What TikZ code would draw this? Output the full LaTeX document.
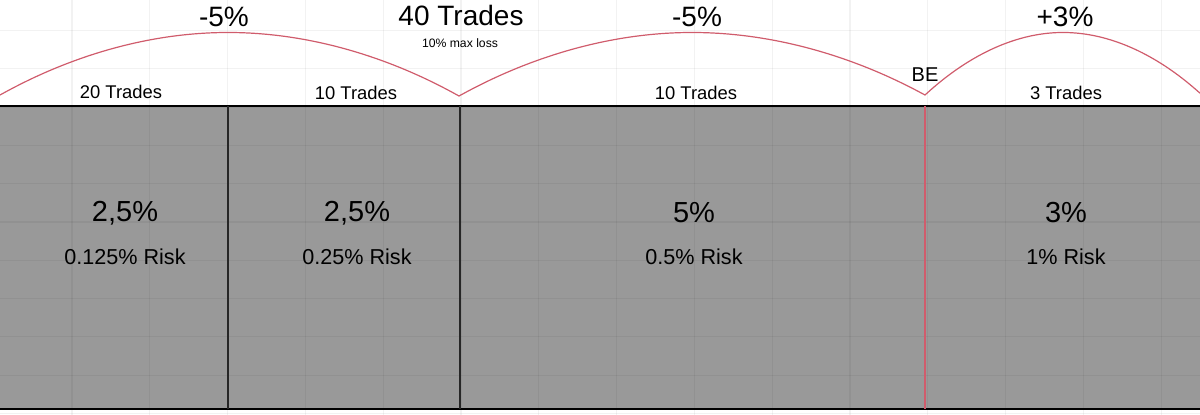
\documentclass[tikz,border=0pt]{standalone}
\usepackage{fontspec}
\setmainfont{Liberation Sans}
\definecolor{arcred}{RGB}{208,92,108}
\definecolor{panelgray}{RGB}{153,153,153}
\tikzset{
  pctlabel/.style={font=\fontsize{14}{16}\selectfont},
  notelabel/.style={font=\fontsize{6.1}{7}\selectfont},
  tradelabel/.style={font=\fontsize{9.2}{11}\selectfont},
  ratelabel/.style={font=\fontsize{14.5}{17}\selectfont},
  risklabel/.style={font=\fontsize{10.8}{13}\selectfont},
  gridline/.style={draw=black,opacity=0.05,line width=0.6pt},
  divider/.style={draw=black!85,line width=1pt},
  curve/.style={draw=arcred,line width=0.6pt},
}

\begin{document}
\begin{tikzpicture}[x=0.5pt,y=-0.5pt]
  \useasboundingbox (0,0) rectangle (1200,415);

  % panel
  \fill[panelgray] (0,106) rectangle (1200,409);
  \foreach \x in {0,...,14} {
    \draw[gridline] ({72+77.8*\x},0) -- ({72+77.8*\x},415);
  }
  \foreach \y in {0,...,10} {
    \draw[gridline] (0,{30.5+38.3*\y}) -- (1200,{30.5+38.3*\y});
  }
  \draw[line width=0.8pt] (0,106) -- (1200,106);
  \draw[line width=0.8pt] (0,409) -- (1200,409);
  \draw[divider] (228,106) -- (228,409);
  \draw[divider] (460,106) -- (460,409);
  \draw[draw=arcred,line width=1pt] (925,106) -- (925,409);

  % equity curve
  \coordinate (start) at (0,95);
  \coordinate (peakA) at (228,32.5);
  \coordinate (cuspA) at (459,96);
  \coordinate (peakB) at (692,32.5);
  \coordinate (cuspB) at (925,95);
  \coordinate (peakC) at (1063,32.5);
  \coordinate (finish) at (1200,93.2);
  \draw[curve] (start) parabola bend (peakA) (cuspA)
    parabola bend (peakB) (cuspB) parabola bend (peakC) (finish);

  \node[pctlabel] (lossA) at (224,16.5) {-5\%};
  \node[pctlabel] (total) at (461,15.5) {40 Trades};
  \node[notelabel] (maxloss) at (460,43.5) {10\% max loss};
  \node[pctlabel] (lossB) at (697,16.5) {-5\%};
  \node[pctlabel] (gain) at (1065,17) {+3\%};
  \node[font=\fontsize{10}{12}\selectfont] (be) at (925,74.5) {BE};

  \node[tradelabel] (tradesA) at (121,92) {20 Trades};
  \node[tradelabel] (tradesB) at (356,93) {10 Trades};
  \node[tradelabel] (tradesC) at (696,93) {10 Trades};
  \node[tradelabel] (tradesD) at (1066,93) {3 Trades};

  \foreach \cx/\rate/\risk/\n in {125/{2,5\%}/{0.125\% Risk}/a,
      357/{2,5\%}/{0.25\% Risk}/b, 694/{5\%}/{0.5\% Risk}/c,
      1066/{3\%}/{1\% Risk}/d} {
    \node[ratelabel] (rate\n) at (\cx,213) {\rate};
    \node[risklabel] (risk\n) at (\cx,256.5) {\risk};
  }
\end{tikzpicture}
\end{document}
